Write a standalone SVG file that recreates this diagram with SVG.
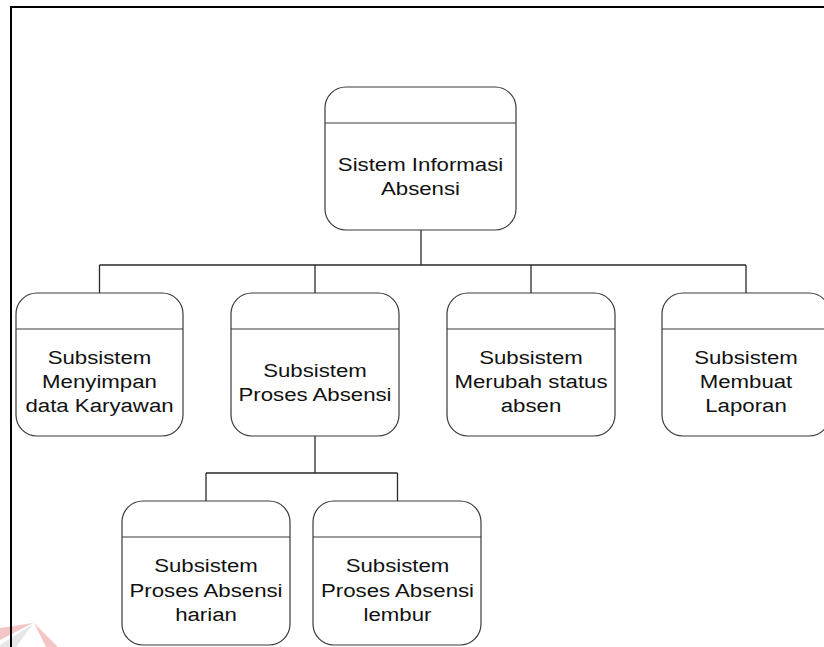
<svg xmlns="http://www.w3.org/2000/svg" width="824" height="647" viewBox="0 0 824 647">
<style>
.box{fill:#fff;stroke:#3a3a3a;stroke-width:1.2}
.div{stroke:#3a3a3a;stroke-width:1.2}
.lbl{font-family:"Liberation Sans",Arial,sans-serif;font-size:19px;fill:#111;text-anchor:middle}
.con{stroke:#2a2a2a;stroke-width:1.3;fill:none}
</style>
<rect width="824" height="647" fill="#fff"/>
<g id="watermark" opacity="0.6">
<polygon points="0,628 33,623 0,640" fill="#ee9f9f"/>
<polygon points="0,645 33,624 16,647 0,647" fill="#d8d8d8"/>
<polygon points="34,623 46,647 58,647" fill="#ee9f9f"/>
</g>
<path d="M11,647 V7 H824" fill="none" stroke="#000" stroke-width="2"/>
<g id="connectors">
<path class="con" d="M421,230 V265 M99.5,265 H746 M99.5,265 V293 M315,265 V293 M531,265 V293 M746,265 V293"/>
<path class="con" d="M315,436 V473 M206,473 H397.5 M206,473 V501 M397.5,473 V501"/>
</g>
<g id="n0">
<rect class="box" x="325" y="87" width="191" height="143" rx="21"/>
<line class="div" x1="325" y1="123" x2="516" y2="123"/>
<g transform="translate(420.5,0) scale(1.17,1)">
<text class="lbl" x="0" y="171">Sistem Informasi</text>
<text class="lbl" x="0" y="195">Absensi</text>
</g>
</g>
<g id="n1">
<rect class="box" x="16" y="293" width="167" height="143" rx="21"/>
<line class="div" x1="16" y1="329" x2="183" y2="329"/>
<g transform="translate(99.5,0) scale(1.17,1)">
<text class="lbl" x="0" y="364">Subsistem</text>
<text class="lbl" x="0" y="388">Menyimpan</text>
<text class="lbl" x="0" y="412">data Karyawan</text>
</g>
</g>
<g id="n2">
<rect class="box" x="231" y="293" width="168" height="143" rx="21"/>
<line class="div" x1="231" y1="329" x2="399" y2="329"/>
<g transform="translate(315,0) scale(1.17,1)">
<text class="lbl" x="0" y="377">Subsistem</text>
<text class="lbl" x="0" y="401">Proses Absensi</text>
</g>
</g>
<g id="n3">
<rect class="box" x="447" y="293" width="168" height="143" rx="21"/>
<line class="div" x1="447" y1="329" x2="615" y2="329"/>
<g transform="translate(531,0) scale(1.17,1)">
<text class="lbl" x="0" y="364">Subsistem</text>
<text class="lbl" x="0" y="388">Merubah status</text>
<text class="lbl" x="0" y="412">absen</text>
</g>
</g>
<g id="n4">
<rect class="box" x="662" y="293" width="168" height="143" rx="21"/>
<line class="div" x1="662" y1="329" x2="830" y2="329"/>
<g transform="translate(746,0) scale(1.17,1)">
<text class="lbl" x="0" y="364">Subsistem</text>
<text class="lbl" x="0" y="388">Membuat</text>
<text class="lbl" x="0" y="412">Laporan</text>
</g>
</g>
<g id="n5">
<rect class="box" x="122" y="501" width="168" height="144" rx="21"/>
<line class="div" x1="122" y1="537" x2="290" y2="537"/>
<g transform="translate(206,0) scale(1.17,1)">
<text class="lbl" x="0" y="572.5">Subsistem</text>
<text class="lbl" x="0" y="597">Proses Absensi</text>
<text class="lbl" x="0" y="621.5">harian</text>
</g>
</g>
<g id="n6">
<rect class="box" x="313" y="501" width="168" height="144" rx="21"/>
<line class="div" x1="313" y1="537" x2="481" y2="537"/>
<g transform="translate(397.5,0) scale(1.17,1)">
<text class="lbl" x="0" y="572.5">Subsistem</text>
<text class="lbl" x="0" y="597">Proses Absensi</text>
<text class="lbl" x="0" y="621.5">lembur</text>
</g>
</g>
</svg>
